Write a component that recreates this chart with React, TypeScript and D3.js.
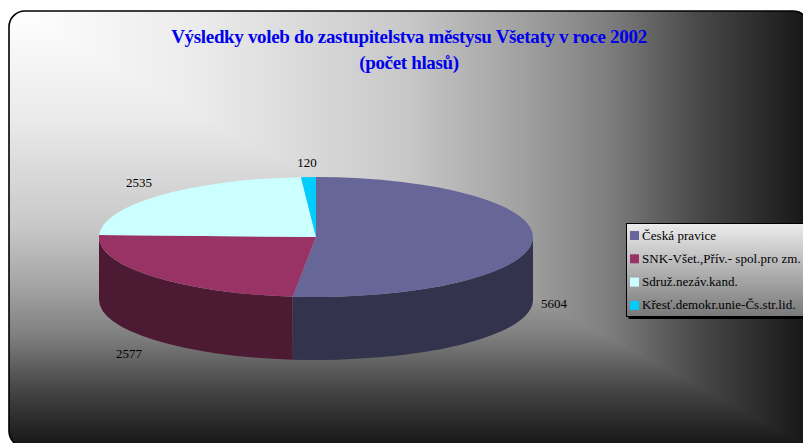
import React from "react";
import * as d3 from "d3";

const categories = ["Česká pravice", "SNK-Všet.,Přív.- spol.pro zm.", "Sdruž.nezáv.kand.", "Křesť.demokr.unie-Čs.str.lid."];
const values = [5604, 2577, 2535, 120];
const topColors = ["#666699", "#993366", "#CCFFFF", "#00CCFF"];
const wallColors = ["#33334D", "#4D1A33", "#668080", "#006680"];
const labelPos = [[554, 308], [129, 358], [139, 187], [307, 167]];
const titleLines = ["Výsledky voleb do zastupitelstva městysu Všetaty v roce 2002", "(počet hlasů)"];
const shadeStops = [[0, "#ffffff"], [0.25, "#eaeaea"], [0.5, "#c8c8c8"], [0.65, "#a0a0a0"], [0.75, "#808080"], [0.87, "#484848"], [1, "#181818"]] as const;

const W = 803, H = 443;
const cx = 316, cy = 237, rx = 217, ry = 60, depth = 63;
const serif = "'Liberation Serif','Times New Roman',serif";

const pieGen = d3.pie<number>().sort(null).value((d) => d);
const arcs = pieGen(values);
const arcGen = d3.arc<d3.PieArcDatum<number>>().innerRadius(0).outerRadius(rx);

const sx = (a: number) => cx + rx * Math.sin(a);
const sy = (a: number) => cy - ry * Math.cos(a);

function wallPath(a0: number, a1: number) {
  const s = Math.max(a0, Math.PI / 2);
  const e = Math.min(a1, (3 * Math.PI) / 2);
  if (e <= s) return null;
  return `M${sx(s)},${sy(s)}A${rx},${ry} 0 0 1 ${sx(e)},${sy(e)}L${sx(e)},${sy(e) + depth}A${rx},${ry} 0 0 0 ${sx(s)},${sy(s) + depth}Z`;
}

export default function App() {
  const bx = 9, by = 11, bw = 800, bh = 436, r = 16;
  const lx = 626.5, ly = 223.5, lw = 190, lh = 93;
  const stops = shadeStops.map(([o, c]) => <stop key={o} offset={o} stopColor={c} />);
  return (
    <svg width={W} height={H} style={{ position: "absolute", left: 0, top: 0, display: "block" }}>
      <defs>
        <linearGradient id="gh" gradientUnits="userSpaceOnUse" x1={bx} x2={803} y1={0} y2={0}>{stops}</linearGradient>
        <linearGradient id="gv" gradientUnits="userSpaceOnUse" x1={0} x2={0} y1={by} y2={443}>{stops}</linearGradient>
        <linearGradient id="gl" x1="0" x2="0" y1="0" y2="1">
          <stop offset="0" stopColor="#ececec" />
          <stop offset="1" stopColor="#787878" />
        </linearGradient>
        <clipPath id="frame">
          <rect x={bx} y={by} width={bw} height={bh} rx={r} ry={r} />
        </clipPath>
      </defs>
      <g clipPath="url(#frame)">
        <rect x={bx} y={by} width={bw} height={bh} fill="url(#gv)" />
        <polygon points={`${bx},${by} ${803},${by} ${803},${443}`} fill="url(#gh)" />
      </g>
      <rect x={bx} y={by} width={bw} height={bh} rx={r} ry={r} fill="none" stroke="#000" strokeWidth={1.6} />

      <g fontFamily={serif} fontWeight="bold" fontSize={19} fill="#0000EE" textAnchor="middle" letterSpacing={-0.33}>
        {titleLines.map((t, i) => (
          <text key={t} x={409} y={43 + i * 26}>{t}</text>
        ))}
      </g>

      {arcs.map((a, i) => {
        const d = wallPath(a.startAngle, a.endAngle);
        return d ? <path key={i} d={d} fill={wallColors[i]} /> : null;
      })}
      {arcs.map((a, i) => (
        <path
          key={i}
          d={arcGen(a) as string}
          transform={`translate(${cx},${cy}) scale(1,${ry / rx})`}
          fill={topColors[i]}
        />
      ))}

      <g fontFamily={serif} fontSize={13} fill="#000" textAnchor="middle">
        {values.map((v, i) => (
          <text key={v} x={labelPos[i][0]} y={labelPos[i][1]}>{v}</text>
        ))}
      </g>

      <rect x={lx + 2} y={ly + 2.5} width={lw} height={lh} fill="#000" />
      <rect x={lx} y={ly} width={lw} height={lh} fill="url(#gl)" stroke="#000" strokeWidth={1} />
      {categories.map((c, i) => (
        <g key={c}>
          <rect x={630} y={231 + i * 23.3} width={9} height={9} fill={topColors[i]} />
          <text x={642} y={239.5 + i * 23.3} fontFamily={serif} fontSize={13} letterSpacing={0.06} fill="#000">{c}</text>
        </g>
      ))}
    </svg>
  );
}
